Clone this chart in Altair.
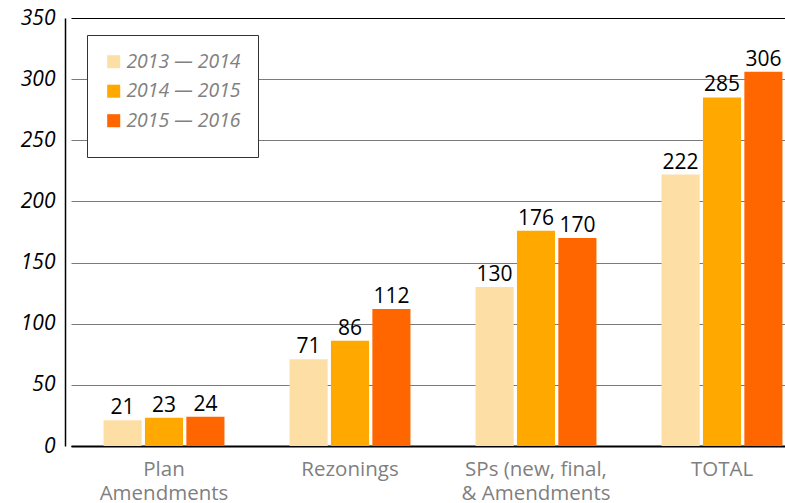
import altair as alt
import pandas as pd

categories = ["Plan\nAmendments", "Rezonings", "SPs (new, final,\n& Amendments", "TOTAL"]
periods = ["2013 — 2014", "2014 — 2015", "2015 — 2016"]
v_2013_2014 = [21, 71, 130, 222]
v_2014_2015 = [23, 86, 176, 285]
v_2015_2016 = [24, 112, 170, 306]
colors = ["#FDDFA5", "#FFA900", "#FF6600"]
y_ticks = [0, 50, 100, 150, 200, 250, 300, 350]

rows = []
for series, vals in zip(periods, [v_2013_2014, v_2014_2015, v_2015_2016]):
    for c, v in zip(categories, vals):
        rows.append({"category": c, "period": series, "value": v})
df = pd.DataFrame(rows)

FONT = "Open Sans"

x = alt.X(
    "category:N",
    sort=categories,
    scale=alt.Scale(range=[6, 750], paddingInner=0.35, paddingOuter=0.175),
    axis=alt.Axis(
        title=None,
        labelExpr="split(datum.label, '\\n')",
        labelAngle=0,
        labelFont=FONT,
        labelFontSize=20.5,
        labelColor="#7f7f7f",
        labelPadding=13,
        labelLineHeight=24,
        labelBaseline="top",
        ticks=False,
        domainColor="black",
        domainWidth=2,
        grid=False,
    ),
)
xo = alt.XOffset("period:N", sort=periods, scale=alt.Scale(paddingInner=0.08))
y = alt.Y(
    "value:Q",
    scale=alt.Scale(domain=[0, 350], nice=False),
    axis=alt.Axis(
        title=None,
        values=y_ticks,
        labelFont=FONT,
        labelFontSize=21,
        labelFontStyle="italic",
        labelColor="black",
        labelPadding=10,
        ticks=False,
        domainColor="black",
        domainWidth=1.5,
        gridColor={"condition": {"test": "datum.value === 350 || datum.value === 0", "value": "black"}, "value": "#7a7a7a"},
        gridWidth=1.2,
    ),
)

bars = alt.Chart(df).mark_bar().encode(
    x=x,
    xOffset=xo,
    y=y,
    color=alt.Color(
        "period:N",
        sort=periods,
        scale=alt.Scale(domain=periods, range=colors),
        legend=alt.Legend(
            title=" ",
            titleOrient="bottom",
            titleFontSize=4,
            titlePadding=6,
            orient="none",
            legendX=22,
            legendY=17,
            padding=17,
            strokeColor="#333333",
            fillColor="white",
            symbolType="square",
            symbolSize=170,
            symbolStrokeWidth=0,
            labelFont=FONT,
            labelFontStyle="italic",
            labelFontSize=19.4,
            labelColor="#808080",
            rowPadding=8.5,
            labelOffset=3,
        ),
    ),
)

labels = alt.Chart(df).mark_text(
    baseline="bottom", dy=-2, font=FONT, fontSize=21, color="black"
).encode(
    x=x,
    xOffset=xo,
    y=y,
    text="value:Q",
)

chart = (
    alt.layer(bars, labels)
    .properties(
        width=720,
        height=428,
        autosize=alt.AutoSizeParams(type="none"),
        padding={"left": 65, "top": 18, "right": 0, "bottom": 57},
    )
    .configure_view(strokeWidth=0)
)

chart.save("out.html", embed_options={"renderer": "svg", "actions": False})
